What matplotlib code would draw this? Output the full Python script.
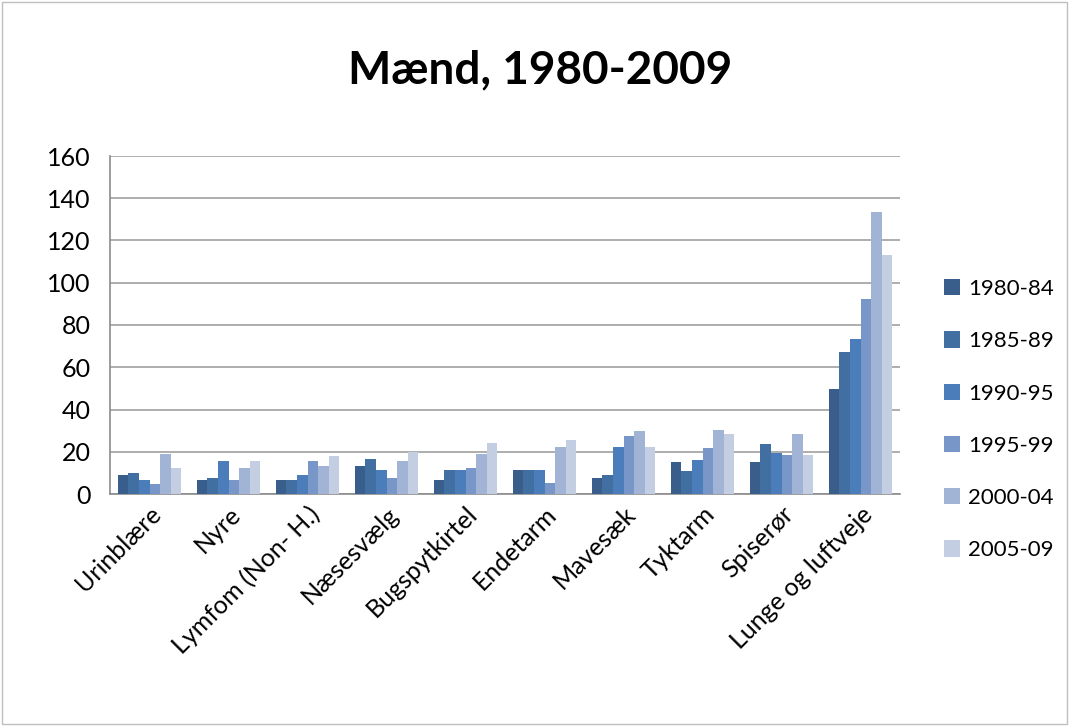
import matplotlib.pyplot as plt
import numpy as np
from matplotlib.patches import Rectangle

plt.rcParams['font.family'] = ['Lato', 'DejaVu Sans']

# Data
categories = ['Urinblære', 'Nyre', 'Lymfom (Non- H.)', 'Næsesvælg', 'Bugspytkirtel',
              'Endetarm', 'Mavesæk', 'Tyktarm', 'Spiserør', 'Lunge og luftveje']
periods = ['1980-84', '1985-89', '1990-95', '1995-99', '2000-04', '2005-09']

v1980 = [8.8, 6.4, 6.4, 13.1, 6.4, 11.2, 7.8, 15.3, 15.1, 49.8]
v1985 = [9.8, 7.8, 6.4, 16.5, 11.2, 11.2, 8.8, 11.0, 23.6, 67.1]
v1990 = [6.4, 15.5, 8.8, 11.2, 11.2, 11.2, 22.2, 16.3, 19.3, 73.6]
v1995 = [4.5, 6.4, 15.5, 7.8, 12.2, 5.4, 27.5, 22.0, 18.4, 92.4]
v2000 = [18.9, 12.2, 13.1, 15.5, 18.9, 22.2, 29.9, 30.5, 28.2, 133.5]
v2005 = [12.2, 15.5, 17.9, 20.0, 24.2, 25.6, 22.2, 28.6, 18.4, 112.9]
series = [v1980, v1985, v1990, v1995, v2000, v2005]

colors = ['#3A5E8C', '#416FA1', '#4A7DBA', '#7897C8', '#A1B4D6', '#C4CEE3']

fig = plt.figure(figsize=(10.69, 7.26), dpi=100)
ax = fig.add_axes([110 / 1069, 1 - 494 / 726, 790 / 1069, 338 / 726])

x = np.arange(len(categories))
w = 0.135
for i, (vals, lab) in enumerate(zip(series, periods)):
    ax.bar(x + (i - 2.5) * w, vals, width=w, color=colors[i], label=lab, zorder=3)

ax.set_xlim(-0.5, len(categories) - 0.5)
ax.set_ylim(0, 160)
ax.set_yticks(range(0, 161, 20))
ax.yaxis.grid(True, color='#A0A0A0', linewidth=1.2, zorder=0)
ax.tick_params(axis='y', length=0, labelsize=18, pad=14)
ax.tick_params(axis='x', length=0, labelsize=18, pad=6)
ax.set_xticks(x)
ax.set_xticklabels(categories, rotation=45, ha='right', rotation_mode='anchor')
for s in ['top', 'right']:
    ax.spines[s].set_visible(False)
ax.spines['left'].set_color('#8C8C8C')
ax.spines['bottom'].set_color('#8C8C8C')
ax.spines['left'].set_linewidth(1.2)
ax.spines['bottom'].set_linewidth(1.2)

fig.text(0.505, 0.903, 'Mænd, 1980-2009', ha='center', va='center',
         fontsize=33, fontweight='bold')

ax.legend(loc='center left', bbox_to_anchor=(1.03, 0.22), frameon=False,
          fontsize=16, handlelength=0.75, handleheight=0.75, handletextpad=0.35,
          labelspacing=1.45)

fig.patches.append(Rectangle((0.002, 0.003), 0.996, 0.994, transform=fig.transFigure,
                             fill=False, edgecolor='#BFBFBF', linewidth=1))

fig.savefig('out.png', dpi=100)
